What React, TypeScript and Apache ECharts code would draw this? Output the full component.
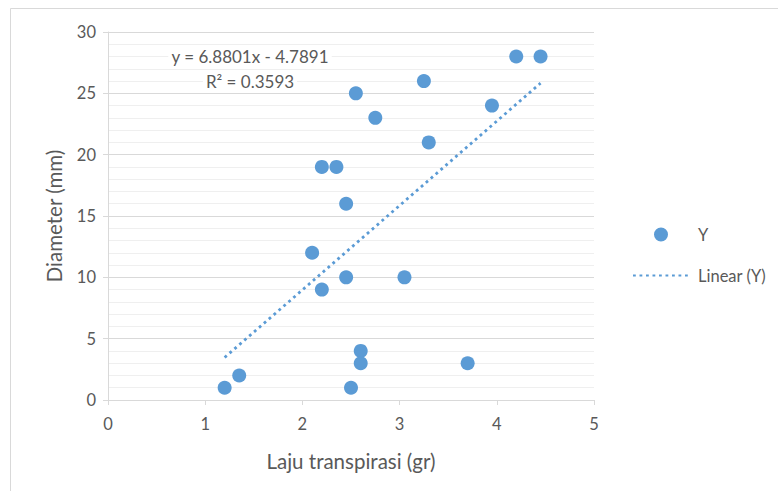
import React, { useEffect, useRef } from "react";
import * as echarts from "echarts";

const xValues = [1.2, 1.35, 2.1, 2.2, 2.35, 2.2, 2.45, 2.45, 2.55, 2.6, 2.6, 2.5, 2.75, 3.05, 3.25, 3.3, 3.7, 3.95, 4.2, 4.45];
const yValues = [1, 2, 12, 19, 19, 9, 16, 10, 25, 4, 3, 1, 23, 10, 26, 21, 3, 24, 28, 28];
const trendX = [1.2, 4.45];
const trendY = [3.47, 25.83];
const equationLines = ["y = 6.8801x - 4.7891", "R² = 0.3593"];
const xTicks = [0, 1, 2, 3, 4, 5];
const yTicks = [0, 5, 10, 15, 20, 25, 30];

const FONT = "Lato, 'Open Sans', sans-serif";
const TEXT = "#595959";
const BLUE = "#5b9bd5";

export default function App() {
  const ref = useRef<HTMLDivElement>(null);
  useEffect(() => {
    document.body.style.margin = "0";
    const chart = echarts.init(ref.current!, null, { renderer: "svg" });
    const points = xValues.map((x, i) => [x, yValues[i]]);
    const trend = trendX.map((x, i) => [x, trendY[i]]);
    chart.setOption({
      animation: false,
      backgroundColor: "#ffffff",
      textStyle: { fontFamily: FONT },
      grid: { left: 108, right: 184, top: 32, bottom: 91 },
      xAxis: {
        type: "value",
        min: xTicks[0],
        max: xTicks[xTicks.length - 1],
        interval: 1,
        name: "Laju transpirasi (gr)",
        nameLocation: "middle",
        nameGap: 50,
        nameTextStyle: { color: TEXT, fontSize: 20.5, fontFamily: FONT },
        axisLine: { show: true, lineStyle: { color: "#d9d9d9", width: 1 } },
        axisTick: { show: true, length: 5, lineStyle: { color: "#d9d9d9" } },
        axisLabel: { color: TEXT, fontSize: 16.5, margin: 15, fontFamily: FONT },
        splitLine: { show: false },
      },
      yAxis: {
        type: "value",
        min: yTicks[0],
        max: yTicks[yTicks.length - 1],
        interval: 5,
        name: "Diameter (mm)",
        nameLocation: "middle",
        nameGap: 44,
        nameTextStyle: { color: TEXT, fontSize: 20.5, fontFamily: FONT },
        axisLine: { show: true, lineStyle: { color: "#d9d9d9", width: 1 } },
        axisTick: { show: true, length: 5, lineStyle: { color: "#d9d9d9" } },
        axisLabel: { color: TEXT, fontSize: 16.5, margin: 12, fontFamily: FONT },
        splitLine: { show: true, lineStyle: { color: "#d9d9d9", width: 1 } },
        minorTick: { show: false, splitNumber: 5 },
        minorSplitLine: { show: true, lineStyle: { color: "#efefef", width: 1 } },
      },
      legend: {
        orient: "vertical",
        left: 632,
        top: 226,
        padding: 0,
        itemGap: 24,
        itemWidth: 56,
        itemHeight: 14,
        textStyle: { color: TEXT, fontSize: 16.5, fontFamily: FONT, padding: [0, 0, 0, 4] },
        data: [
          { name: "Y", icon: "path://M21,0 a7,7 0 1,0 14,0 a7,7 0 1,0 -14,0 M0,7 L56,7", itemStyle: { color: BLUE, opacity: 1 } },
          { name: "Linear (Y)", itemStyle: { color: "rgba(0,0,0,0)", borderColor: "rgba(0,0,0,0)", borderWidth: 0 } },
        ],
      },
      series: [
        {
          name: "Y",
          type: "scatter",
          data: points,
          symbol: "circle",
          symbolSize: 14,
          itemStyle: { color: BLUE, opacity: 1 },
          z: 3,
        },
        {
          name: "Linear (Y)",
          type: "line",
          data: trend,
          symbol: "none",
          lineStyle: { color: BLUE, width: 2.8, type: [2.8, 3.7] },
          itemStyle: { color: BLUE },
          z: 2,
        },
      ],
      graphic: [
        {
          type: "rect",
          shape: { x: 10.5, y: 8.5, width: 900, height: 600 },
          style: { fill: "none", stroke: "#d9d9d9", lineWidth: 1 },
          silent: true,
          z: -1,
        },
        {
          type: "text",
          x: 250,
          y: 56,
          z: 10,
          style: { text: equationLines[0], fill: TEXT, fontSize: 17, fontFamily: FONT, align: "center", verticalAlign: "middle", backgroundColor: "#ffffff", padding: [2, 3] },
        },
        {
          type: "text",
          x: 250,
          y: 81,
          z: 10,
          style: { text: equationLines[1], fill: TEXT, fontSize: 17, fontFamily: FONT, align: "center", verticalAlign: "middle", backgroundColor: "#ffffff", padding: [2, 3] },
        },
      ],
    });
    return () => chart.dispose();
  }, []);
  return <div ref={ref} style={{ width: 778, height: 491 }} />;
}
